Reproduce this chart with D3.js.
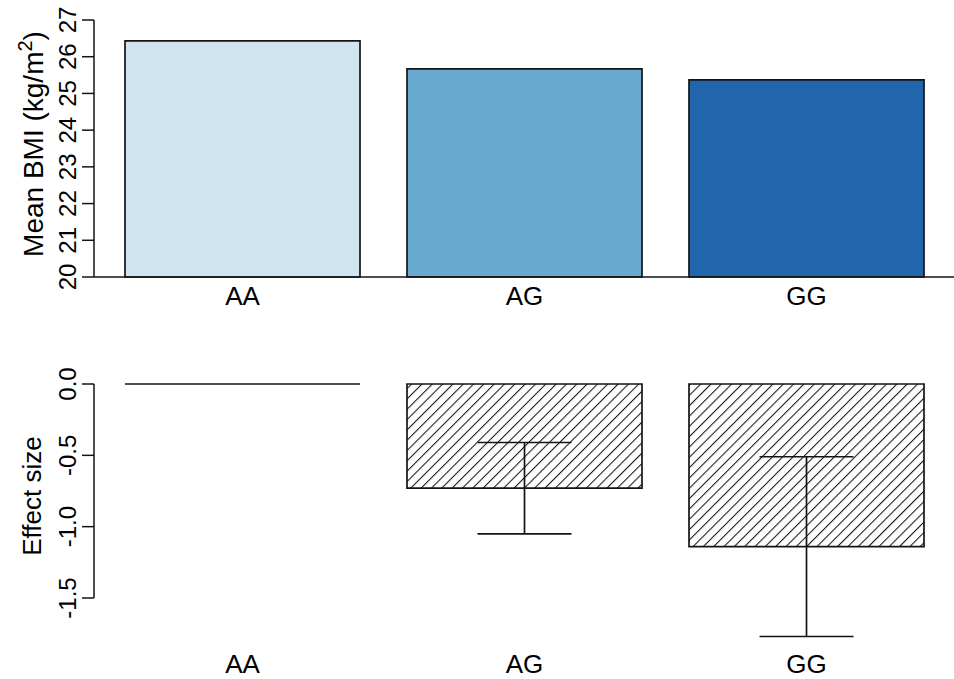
<!DOCTYPE html>
<html>
<head>
<meta charset="utf-8">
<script src="https://cdn.jsdelivr.net/npm/d3@7"></script>
<style>
  html, body { margin: 0; padding: 0; background: #fff; }
  svg { display: block; font-family: "Liberation Sans", Arial, Helvetica, sans-serif; }
</style>
</head>
<body>
<svg id="chart" width="954" height="679"></svg>
<script>
// Genotype groups
const genotypes = ["AA", "AG", "GG"];
// Mean BMI (kg/m^2) per genotype
const meanBMI = [26.43, 25.67, 25.37];
const bmiColors = ["#D1E5F0", "#67A9CF", "#2166AC"];
const bmiTicks = [20, 21, 22, 23, 24, 25, 26, 27];
// Effect size relative to AA, with confidence limits
const effect = [0, -0.73, -1.14];
const effectLower = [null, -1.05, -1.77];
const effectUpper = [null, -0.41, -0.51];
const effectTicks = [0, -0.5, -1.0, -1.5];
const effectTickLabels = ["0.0", "-0.5", "-1.0", "-1.5"];

const svg = d3.select("#chart");
const ink = "#141414";
const tickFs = 24;
const labelFs = 26;

// horizontal placement shared by both panels (bar width 1, gap 0.2)
const x = d3.scaleBand().domain(genotypes).range([125, 924])
  .paddingInner(0.2 / 1.2).paddingOuter(0);
const axisX = 94;

// hatch pattern for effect-size bars
const defs = svg.append("defs");
const pat = defs.append("pattern")
  .attr("id", "hatch").attr("patternUnits", "userSpaceOnUse")
  .attr("width", 7.3).attr("height", 7.3)
  .attr("patternTransform", "rotate(45)");
pat.append("rect").attr("width", 7.3).attr("height", 7.3).attr("fill", "#fff");
pat.append("line").attr("x1", 0).attr("y1", -1).attr("x2", 0).attr("y2", 9)
  .attr("stroke", ink).attr("stroke-width", 2.1);

function barPath(x0, x1, y0, y1) {
  return `M${x0},${y0}L${x1},${y0}L${x1},${y1}L${x0},${y1}Z`;
}

function yAxis(scale, ticks, labels, yTop, yBot) {
  const g = svg.append("g");
  g.append("line").attr("x1", axisX).attr("x2", axisX)
    .attr("y1", yTop).attr("y2", yBot)
    .attr("stroke", ink).attr("stroke-width", 1.5);
  ticks.forEach((t, i) => {
    const yy = scale(t);
    g.append("line").attr("x1", axisX - 12).attr("x2", axisX)
      .attr("y1", yy).attr("y2", yy)
      .attr("stroke", ink).attr("stroke-width", 1.5);
    g.append("text")
      .attr("transform", `translate(76,${yy}) rotate(-90)`)
      .attr("text-anchor", "middle")
      .attr("font-size", tickFs).attr("fill", "#000")
      .text(labels[i]);
  });
}

// ---- top panel: mean BMI ----
const yTop = d3.scaleLinear().domain([20, 27]).range([277, 20]);

svg.append("g").selectAll("path").data(genotypes).join("path")
  .attr("d", (d, i) => barPath(x(d), x(d) + x.bandwidth(), yTop(20), yTop(meanBMI[i])))
  .attr("fill", (d, i) => bmiColors[i])
  .attr("stroke", ink).attr("stroke-width", 1.7);

// baseline across the plot region
svg.append("line").attr("x1", axisX).attr("x2", 954)
  .attr("y1", yTop(20)).attr("y2", yTop(20))
  .attr("stroke", ink).attr("stroke-width", 1.5);

yAxis(yTop, bmiTicks, bmiTicks.map(String), yTop(27), yTop(20));

const t1 = svg.append("text")
  .attr("transform", `translate(43,144) rotate(-90)`)
  .attr("text-anchor", "middle").attr("font-size", 28).attr("fill", "#000");
t1.append("tspan").text("Mean BMI (kg/m");
t1.append("tspan").attr("font-size", 20).attr("dy", -11).text("2");
t1.append("tspan").attr("dy", 11).text(")");

svg.append("g").selectAll("text").data(genotypes).join("text")
  .attr("x", d => x(d) + x.bandwidth() / 2).attr("y", 305)
  .attr("text-anchor", "middle").attr("font-size", labelFs).attr("fill", "#000")
  .text(d => d);

// ---- bottom panel: effect size ----
const yBot = d3.scaleLinear().domain([-1.5, 0]).range([598, 384]);

svg.append("g").selectAll("path").data(genotypes).join("path")
  .attr("d", (d, i) => barPath(x(d), x(d) + x.bandwidth(), yBot(0), yBot(effect[i])))
  .attr("fill", "url(#hatch)")
  .attr("stroke", ink).attr("stroke-width", 1.7);

// confidence interval whiskers
const eb = svg.append("g").attr("stroke", ink).attr("stroke-width", 1.7);
genotypes.forEach((d, i) => {
  if (effectLower[i] === null) return;
  const cx = x(d) + x.bandwidth() / 2;
  const half = x.bandwidth() * 0.2;
  eb.append("line").attr("x1", cx).attr("x2", cx)
    .attr("y1", yBot(effectUpper[i])).attr("y2", yBot(effectLower[i]));
  eb.append("line").attr("x1", cx - half).attr("x2", cx + half)
    .attr("y1", yBot(effectUpper[i])).attr("y2", yBot(effectUpper[i]));
  eb.append("line").attr("x1", cx - half).attr("x2", cx + half)
    .attr("y1", yBot(effectLower[i])).attr("y2", yBot(effectLower[i]));
});

yAxis(yBot, effectTicks, effectTickLabels, yBot(0), yBot(-1.5));

svg.append("text")
  .attr("transform", `translate(41,496) rotate(-90)`)
  .attr("text-anchor", "middle").attr("font-size", labelFs).attr("fill", "#000")
  .text("Effect size");

svg.append("g").selectAll("text").data(genotypes).join("text")
  .attr("x", d => x(d) + x.bandwidth() / 2).attr("y", 673)
  .attr("text-anchor", "middle").attr("font-size", labelFs).attr("fill", "#000")
  .text(d => d);
</script>
</body>
</html>
